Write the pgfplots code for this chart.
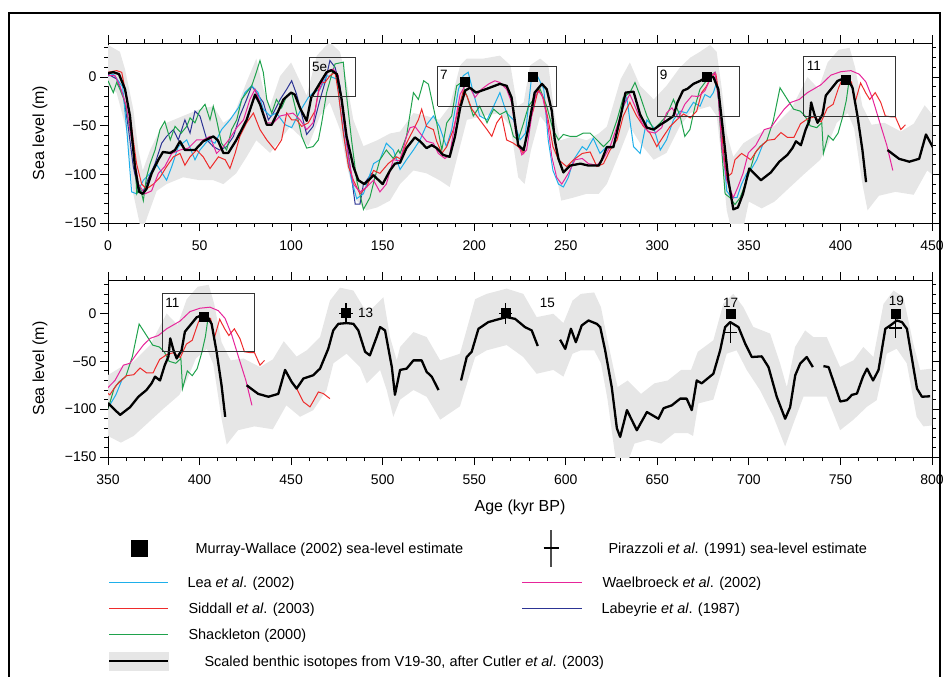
\documentclass[border=0pt]{standalone}
\usepackage{fontspec}
\setmainfont{Liberation Sans}
\usepackage{pgfplots}
\usepackage{pgfplotstable}
\pgfplotsset{compat=1.18}

\definecolor{cLea}{HTML}{1EAFEA}
\definecolor{cSid}{HTML}{EE2B2B}
\definecolor{cSha}{HTML}{1FA24C}
\definecolor{cWae}{HTML}{E6259A}
\definecolor{cLab}{HTML}{2C3494}
\definecolor{cBand}{HTML}{E6E6E6}

% scaled benthic isotopes (nan = gap)
\pgfplotstableread[row sep=\\]{x y\\
0 4\\ 3 5\\ 6 3\\ 9.3 -12.5\\ 12 -40\\ 14.7 -92\\ 17 -118\\ 19 -120\\ 21 -115\\ 23.8 -99\\ 27.5 -85\\ 30 -77\\ 34 -78\\ 36.6 -75\\ 39.3 -66\\ 42 -75\\ 47.5 -75\\ 52 -66\\ 57.5 -61\\ 60 -65\\ 63 -78\\ 65.7 -78\\ 70 -65\\ 75.7 -44\\ 80.3 -18\\ 83 -28\\ 86.7 -49\\ 89.4 -49\\ 93 -35\\ 95.8 -23\\ 100 -16\\ 102 -18\\ 104.9 -32\\ 108.5 -45\\ 111 -21\\ 115.8 -6\\ 119.4 5\\ 122 7\\ 125 3\\ 127.6 -23\\ 130.3 -61\\ 134 -92\\ 136.7 -106\\ 140 -110\\ 145 -101\\ 150 -110\\ 154 -96\\ 156.7 -89\\ 159.5 -88\\ 163 -73\\ 167.6 -62\\ 170.4 -66\\ 174 -73\\ 176.8 -70\\ 179.5 -73\\ 183 -80\\ 186.6 -82\\ 189.5 -61\\ 192.3 -32\\ 195 -14\\ 197.7 -11\\ 201 -16\\ 207 -12\\ 214 -7\\ 217.7 -9\\ 220.4 -21\\ 224 -70\\ 227 -75\\ 229.6 -52\\ 233 -16\\ 237 -7\\ 239.6 -12.5\\ 242.4 -35\\ 244 -65\\ 246 -84\\ 248.7 -98\\ 252.4 -91\\ 258 -89\\ 262.4 -91\\ 268 -91\\ 269.7 -85\\ 272.4 -72\\ 276 -72\\ 280 -40\\ 282.6 -16\\ 287 -15\\ 290.6 -38.5\\ 294.3 -52\\ 298 -54\\ 301.6 -49\\ 305 -45\\ 308.8 -40\\ 311 -26\\ 314 -14\\ 316.5 -12\\ 319.7 -7\\ 323.3 -4\\ 327 0\\ 330.6 0\\ 333.3 -12.5\\ 336 -57.6\\ 338.8 -106\\ 341.5 -136\\ 344 -134\\ 346.8 -120\\ 350.2 -94\\ 356.6 -106\\ 362 -98\\ 366.6 -87\\ 371 -80\\ 373.8 -73\\ 375.7 -66\\ 378.4 -70\\ 381 -54\\ 383 -45\\ 384 -26\\ 385.8 -38.5\\ 387.5 -47\\ 390.2 -38.5\\ 392 -19\\ 394.8 -12.5\\ 398.4 -4\\ 401 -2\\ 404 -2\\ 406.6 -11\\ 409.3 -40\\ 412 -75\\ 414 -108\\ 419 nan\\
425.7 -75\\ 432 -84\\ 437.6 -87\\ 443 -84\\ 446.7 -59\\ 450.3 -71.5\\ 453 -78.5\\ 456.7 -68\\ 462 -64.6\\ 465.8 -57.6\\ 470.3 -36.8\\ 473 -17.7\\ 475.8 -10.8\\ 480.3 -10\\ 484 -10.8\\ 486.7 -17.7\\ 490.4 -40\\ 493 -43.8\\ 496.7 -24.6\\ 498.6 -14.2\\ 501.3 -17.7\\ 505 -56\\ 506.7 -85\\ 509.5 -59\\ 513.1 -57.6\\ 516.8 -49\\ 521.3 -49\\ 524 -61\\ 526.8 -66\\ 530.5 -80\\ 536 nan\\
542.8 -70\\ 545.9 -45.5\\ 548.6 -40\\ 552.3 -16\\ 557.7 -9\\ 564 -5.6\\ 567.7 -3.8\\ 572.3 -5.6\\ 577.7 -14.2\\ 581.4 -17.7\\ 584.7 -34\\ 590 nan\\
596.9 -27.4\\ 599.7 -37\\ 602.8 -16\\ 605.5 -30\\ 608.7 -12.5\\ 612.4 -7.3\\ 616.9 -10.8\\ 618.8 -14.2\\ 621.5 -38.5\\ 625.1 -77\\ 627.9 -120\\ 629.7 -129\\ 633.4 -101\\ 638.8 -122\\ 644.3 -103\\ 650.6 -110\\ 653.4 -99\\ 657.9 -96\\ 662.5 -89\\ 666 -89\\ 668.8 -101\\ 671.5 -70\\ 674.2 -73\\ 680.6 -63\\ 684.3 -38.5\\ 687 -14.2\\ 689.8 -9\\ 694.3 -14.2\\ 698 -31.6\\ 701.6 -45.5\\ 707 -44.8\\ 710.7 -56\\ 715.2 -87\\ 719.8 -110\\ 722.5 -98\\ 725.3 -64.6\\ 728 -52.4\\ 731.6 -45.5\\ 734.9 -56\\ 737 nan\\
740.7 -55\\ 743.5 -56\\ 747.2 -76.7\\ 749.9 -92\\ 753.5 -90.6\\ 756.3 -85\\ 759 -83.7\\ 762.3 -66\\ 764.5 -57.6\\ 767.8 -70\\ 770.8 -59\\ 774.5 -16\\ 777.2 -12.5\\ 780.8 -7.3\\ 783.6 -9\\ 786.3 -16\\ 791.8 -78.5\\ 794.5 -87\\ 799 -86.5\\
}\tblack

% uncertainty band: upper edge left to right, then lower edge right to left
\pgfplotstableread[row sep=\\]{x y\\
0 33\\ 6.5 26\\ 9.3 8\\ 13.8 -33\\ 16.6 -75\\ 19 -96\\ 23 -75\\ 28.4 -54\\ 32 -47\\ 41 -40\\ 50 -33\\ 57.5 -30\\ 63 -47\\ 68.5 -40\\ 75.7 -5\\ 81 19\\ 84.8 -12\\ 88.5 -30\\ 94 1\\ 100 15\\ 105 -5\\ 108.5 -19\\ 114 22\\ 121 36\\ 126.7 26\\ 130.3 -5\\ 134 -44\\ 139.5 -71\\ 147 -65\\ 154 -58\\ 159.5 -56\\ 166.8 -37\\ 174 -40\\ 181 -44\\ 186.6 -30\\ 192.3 12\\ 196 19\\ 205 19\\ 214 22\\ 219.8 12\\ 223.5 -30\\ 227 -26\\ 230.5 12\\ 236 19\\ 240.5 12\\ 244 -40\\ 247 -65\\ 254 -61\\ 261.4 -65\\ 268 -58\\ 272.4 -51\\ 280 -2\\ 285 15\\ 290.6 -9\\ 298 -23\\ 305 -9\\ 312.4 10\\ 318 20\\ 323.3 26\\ 328.8 33\\ 332.4 26\\ 335.2 -12\\ 337.9 -58\\ 341.5 -82\\ 347 -68\\ 352 -62\\ 358 -55\\ 364 -50\\ 373 -33\\ 382 0\\ 388 -12\\ 393 15\\ 399 28\\ 405 30\\ 408 10\\ 412 -30\\ 417 -49\\ 424 -47\\ 433 -56\\ 440 -48\\ 446 -29\\ 453 -45\\ 458.5 -38.5\\ 465.8 -24.6\\ 471.2 13.5\\ 476.7 27\\ 484 24\\ 489.5 6.6\\ 493 3\\ 500.4 17\\ 504 -24.6\\ 507.7 -49\\ 509.5 -35\\ 516.8 -19.4\\ 524 -24.6\\ 531.4 -49\\ 542.2 -42\\ 550.5 15\\ 556.8 20.5\\ 567.7 26\\ 576.8 20.5\\ 584.1 -3.8\\ 593.2 -0.3\\ 598.7 -10\\ 603.7 13.5\\ 608.2 20.5\\ 615.5 22\\ 619.2 6.6\\ 622.8 -28\\ 628.3 -77\\ 633.8 -70\\ 641.1 -84\\ 648.4 -73\\ 655.7 -70\\ 663 -59\\ 668.4 -59\\ 672.1 -40\\ 680.6 -28\\ 686 10\\ 691.5 20.5\\ 697 6.6\\ 702.4 -14\\ 711.6 -21\\ 717 -52\\ 720.7 -77\\ 725.2 -35\\ 730.7 -17.7\\ 735.2 -24.6\\ 742.5 -24.6\\ 749.8 -56\\ 757.1 -49\\ 762.5 -35\\ 768 -45.5\\ 773.5 10\\ 779 24\\ 784.4 17\\ 789.8 -31.6\\ 793.5 -59\\ 800 -57.6\\
800 -117\\ 795.3 -118\\ 791.6 -108\\ 786.2 -52\\ 780.7 -36.8\\ 775.3 -42\\ 769.8 -90.6\\ 764.4 -97.6\\ 757.1 -111\\ 749.8 -122\\ 742.5 -87\\ 729.8 -87\\ 724.3 -115\\ 719.8 -139\\ 713.4 -108\\ 706 -80\\ 698.8 -59\\ 693.3 -38.5\\ 687.9 -42\\ 680.6 -90\\ 672.4 -94\\ 669.5 -128\\ 666.7 -125\\ 659.4 -125\\ 652.1 -136\\ 644.8 -132\\ 637.5 -136\\ 632 -165\\ 627.4 -155\\ 622.8 -90\\ 619.2 -52\\ 615.5 -38.5\\ 608.2 -38.5\\ 603.7 -42\\ 598.7 -66\\ 593.2 -59\\ 584.1 -63\\ 576.8 -45.5\\ 567.7 -33\\ 556.8 -38.5\\ 550.5 -45.5\\ 542.2 -97\\ 531.4 -111\\ 524 -87\\ 516.8 -80\\ 509.5 -90\\ 505.8 -108\\ 502.2 -80\\ 498.6 -59\\ 491.3 -73\\ 487.6 -56\\ 480.3 -42\\ 473.1 -52\\ 469.4 -80\\ 462.1 -101\\ 454.9 -108\\ 447.4 -96\\ 440 -121\\ 430 -118\\ 421 -122\\ 414.8 -137\\ 412 -110\\ 407.5 -53\\ 404 -37\\ 398 -47\\ 393 -70\\ 389 -85\\ 380 -100\\ 372 -114\\ 364 -128\\ 357 -135\\ 350 -128\\ 347 -155\\ 341.5 -165\\ 337.9 -137\\ 335.2 -85\\ 332.4 -40\\ 328.8 -30\\ 323.3 -33\\ 318 -37\\ 312.4 -50\\ 305 -78\\ 298 -85\\ 290.6 -68\\ 285 -51\\ 280 -75\\ 272.4 -110\\ 268 -120\\ 261.4 -120\\ 254 -124\\ 247.5 -127\\ 244 -92\\ 240.5 -51\\ 236 -40\\ 231 -75\\ 227.5 -110\\ 224 -103\\ 219.8 -51\\ 214 -37\\ 205 -40\\ 196 -44\\ 192.3 -71\\ 186.6 -113\\ 181 -106\\ 174 -99\\ 166.8 -96\\ 159.5 -110\\ 154 -127\\ 147 -134\\ 141 -137\\ 135.8 -127\\ 131 -96\\ 126.7 -54\\ 121 -26\\ 115.8 -40\\ 109.4 -71\\ 105 -61\\ 99.4 -51\\ 94 -65\\ 88.5 -78\\ 81 -65\\ 75.7 -82\\ 70 -99\\ 63 -110\\ 57.5 -106\\ 50 -106\\ 41 -103\\ 32 -110\\ 26.6 -117\\ 22 -141\\ 18.4 -160\\ 13.8 -120\\ 10 -54\\ 4.7 -16\\ 0 -9\\
}\tband

% Lea et al. (2002)
\pgfplotstableread[row sep=\\]{x y\\
0 1\\ 3 3\\ 8 -10\\ 10.5 -60\\ 12.9 -118\\ 15.6 -120\\ 19.3 -106\\ 23 -99\\ 26.6 -90\\ 32 -106\\ 34.8 -92\\ 38.4 -71.5\\ 43 -64.6\\ 47.5 -85\\ 50.2 -75\\ 54.8 -64.6\\ 58.4 -68\\ 62 -54\\ 66.6 -44\\ 71.2 -31.6\\ 74.8 -16\\ 78.5 -9\\ 82 -16\\ 84.8 -33\\ 88.5 -40\\ 92 -37\\ 96.7 -49\\ 100.3 -52\\ 104.9 -35\\ 109.4 -21\\ 112.1 -16\\ 115.8 -12.5\\ 119.4 1.4\\ 122 0\\ 125 -2\\ 126.7 -30\\ 130.3 -78.5\\ 133 -106\\ 135.8 -125\\ 139.5 -120\\ 142 -106\\ 145 -89\\ 148.5 -85\\ 152 -68\\ 155.8 -75\\ 159.5 -95\\ 163 -85\\ 166.8 -75\\ 170.4 -64.6\\ 174 -49\\ 177.7 -40\\ 181 -50.7\\ 184.8 -71.5\\ 187.7 -54\\ 191.4 -12.5\\ 194 1.4\\ 196.7 4.9\\ 199.5 -16\\ 203 -40\\ 207 -44\\ 210.6 -30\\ 214 -16\\ 217.7 -37\\ 221.4 -44\\ 225 -64.6\\ 228 -57.6\\ 231.4 1.4\\ 234 3\\ 238 -12.5\\ 240.4 -64.6\\ 243 -96\\ 246 -110\\ 248.7 -113\\ 251.4 -103\\ 254.3 -85\\ 259 -71.5\\ 261.4 -75\\ 265 -63\\ 268.7 -78.5\\ 272.4 -71.5\\ 276 -71.5\\ 280 -38.5\\ 283.3 -21\\ 287 -71.5\\ 290.6 -78.5\\ 294.3 -44\\ 298 -52\\ 301.6 -75\\ 305 -64.6\\ 308.8 -44\\ 312.4 -35\\ 316 -37\\ 319.7 -26\\ 323.3 -30\\ 326 -18\\ 328.8 -21\\ 330.6 -16\\ 332.4 -5.6\\ 334.2 -37\\ 336 -75\\ 337.9 -117\\ 340.6 -124\\ 343.5 -124\\ 346 -110\\ 348.8 -99\\ 351.5 -94\\ 354.3 -85\\ 357.9 -68\\
}\tlea

% Siddall et al. (2003)
\pgfplotstableread[row sep=\\]{x y\\
0 4.9\\ 4.7 6.6\\ 7.5 4.9\\ 9.3 -12.5\\ 12 -40\\ 15.6 -89\\ 18.4 -110\\ 21 -115\\ 24.8 -110\\ 28.4 -103\\ 32 -92\\ 35.7 -82\\ 39.3 -78.5\\ 42 -90.6\\ 44.8 -82\\ 48.4 -75\\ 52 -82\\ 55.7 -94\\ 60.3 -82\\ 64 -85\\ 66.6 -94\\ 69.4 -78.5\\ 72 -61\\ 75.7 -47\\ 79.4 -37\\ 83 -54\\ 86.7 -64.6\\ 91.2 -75\\ 94.8 -64.6\\ 97.6 -37\\ 100.3 -44\\ 103 -44\\ 105.8 -50.7\\ 109.4 -47\\ 113 -35\\ 115.8 -5.6\\ 118.5 -5.6\\ 121.2 1.4\\ 124 4.9\\ 125.8 -16\\ 128.5 -57.6\\ 131.3 -92\\ 134 -106\\ 137.6 -120\\ 141.3 -113\\ 145 -96\\ 148.5 -99\\ 153 -89\\ 157.6 -82\\ 159.5 -84\\ 163 -68\\ 166.8 -54\\ 169.5 -44\\ 171.3 -33\\ 174 -50.7\\ 177.7 -54\\ 179.5 -66\\ 182.3 -78.5\\ 185 -71.5\\ 188.6 -54\\ 191.4 -33\\ 194 -14.2\\ 196 -19.4\\ 198.7 -33\\ 203 -44\\ 207 -54\\ 209.6 -61\\ 212.3 -47\\ 215 -40\\ 217.7 -64.6\\ 221.4 -68\\ 224 -71.5\\ 227 -78.5\\ 229.6 -50.7\\ 232.4 -33\\ 235 -12.5\\ 238 -23\\ 240.4 -44\\ 243 -71.5\\ 246 -85\\ 250.5 -92\\ 254.3 -85\\ 259 -78.5\\ 263.3 -77\\ 267 -92\\ 270.6 -89\\ 274.2 -75\\ 278 -64.6\\ 281.4 -40\\ 285 -26\\ 288.7 -40\\ 292.4 -50.7\\ 296 -57.6\\ 299.7 -71.5\\ 303.3 -61\\ 307 -50.7\\ 310.6 -44\\ 314.3 -38\\ 318 -42\\ 321.5 -35\\ 324.2 -16\\ 327 -9\\ 329.7 1.4\\ 332 3\\ 333.8 -19.4\\ 336 -75\\ 337.9 -103\\ 340.6 -99\\ 342.4 -85\\ 346 -78.5\\ 348.8 -82\\ 351 -85\\ 354.5 -75\\ 360 -65\\ 364 -64\\ 367.5 -57\\ 371 -62\\ 374.6 -62\\ 378.2 -48\\ 382 -43\\ 385.6 -41\\ 389.5 -46\\ 392.8 -32\\ 396 -28\\ 399 -11\\ 401 -2\\ 404.2 -5\\ 406 -5\\ 408 -26\\ 411 -6\\ 413.7 -16\\ 416 -23\\ 419 -16\\ 422 -26\\ 424.5 -40\\ 428 -41\\ 430 -41\\ 433 -54\\ 435.5 -49\\ 444 nan\\ 453 -78.5\\ 456.7 -92.4\\ 460.3 -97.6\\ 462 -92\\ 464.9 -82\\ 467.6 -83.7\\ 471.2 -89\\
}\tsid

% Shackleton (2000)
\pgfplotstableread[row sep=\\]{x y\\
0 -3.8\\ 2.9 -16\\ 4.7 -5.6\\ 6.5 -12.5\\ 9.3 -26\\ 12 -54\\ 14.7 -82\\ 15.7 -120\\ 17.5 -113\\ 19.3 -127\\ 21 -103\\ 23 -89\\ 25.7 -75\\ 28.4 -54\\ 31 -45.5\\ 34 -64.6\\ 36.6 -50.7\\ 40 -57.6\\ 43 -50.7\\ 44.8 -42\\ 47.5 -47\\ 50 -35\\ 53 -28\\ 55.7 -44\\ 57.5 -30\\ 59.3 -44\\ 62 -68\\ 64.8 -75\\ 67.5 -54\\ 70.3 -44\\ 73 -23\\ 75.7 -16\\ 78.5 -9\\ 81 4.9\\ 83 17\\ 84.8 4.9\\ 86.7 -23\\ 89.4 -37\\ 92 -23\\ 94.8 -31.6\\ 97.6 -19.4\\ 100.3 -16\\ 103 -37\\ 105.8 -61\\ 108.5 -73\\ 112 -71.5\\ 114.9 -64.6\\ 116.7 -47\\ 119.4 -16\\ 122 1.4\\ 124 13.5\\ 128.5 15.3\\ 130.3 -19.4\\ 133 -64.6\\ 135.8 -106\\ 139.5 -136\\ 143 -124\\ 145.8 -103\\ 148.5 -85\\ 152 -75\\ 155.8 -83.7\\ 158.6 -75\\ 159.5 -78.5\\ 163 -61\\ 166.8 -16\\ 169.5 -23\\ 172.4 -3.8\\ 175 -7.3\\ 176.8 -23\\ 179.5 -47\\ 182.3 -75\\ 185 -47\\ 187.7 -40\\ 190.4 -9\\ 193 -5.6\\ 196 -19.4\\ 199.5 -40\\ 203 -30\\ 207 -47\\ 210.6 -33\\ 214 -38.5\\ 217.7 -35\\ 221.4 -61\\ 224 -64.6\\ 227 -47\\ 229.6 -30\\ 232.4 -23\\ 236 -12.5\\ 239.6 -30\\ 243 -54\\ 246 -64.6\\ 248.7 -59\\ 252.4 -61\\ 256 -61\\ 259.6 -57.6\\ 263.3 -57.6\\ 267 -64.6\\ 270.6 -71.5\\ 274.2 -64.6\\ 278 -44\\ 281.4 -21\\ 285 -16\\ 287.8 -5.6\\ 290.6 -19.4\\ 294.3 -40\\ 298 -54\\ 301.6 -47\\ 305 -40\\ 308.8 -23\\ 312.4 -40\\ 315 -61\\ 317.8 -54\\ 320.6 -30\\ 323.3 -12.5\\ 326 -5.6\\ 328.8 1.4\\ 331.5 4.9\\ 333.4 -23\\ 335.2 -75\\ 337 -120\\ 339.7 -124\\ 342.4 -131\\ 345.2 -124\\ 348 -110\\ 350.6 -96\\ 353.3 -78.5\\ 356 -71.5\\ 359.7 -66\\ 363.3 -45\\ 367 -11\\ 370.7 -22\\ 374.4 -33\\ 378 -35\\ 380.7 -40\\ 383.4 -50\\ 387 -52\\ 389.8 -47\\ 390.7 -78.5\\ 393.3 -60\\ 396 -65\\ 398.7 -57.6\\ 401.2 -41\\ 403.2 -24\\ 404.6 -5\\ 406.5 -9\\
}\tsha

% Waelbroeck et al. (2002)
\pgfplotstableread[row sep=\\]{x y\\
0 1.4\\ 3.8 1.4\\ 6.5 -9\\ 10 -30\\ 13.8 -75\\ 16.6 -110\\ 20.2 -120\\ 23.8 -117\\ 27.5 -99\\ 31 -92\\ 34.8 -78.5\\ 39.3 -75\\ 43.9 -73\\ 48.4 -64.6\\ 52 -64.6\\ 55.7 -61\\ 59.3 -78.5\\ 63 -71.5\\ 66.6 -63\\ 70.3 -52\\ 74 -44\\ 77.5 -23\\ 80.3 -12.5\\ 83 -26\\ 86.7 -47\\ 90.3 -47\\ 94 -40\\ 97.6 -38.5\\ 101 -37\\ 104.9 -44\\ 108.5 -54\\ 112 -47\\ 114.9 -16\\ 117.6 -2\\ 120.3 6.6\\ 123 8.3\\ 125.8 1.4\\ 128.5 -44\\ 131.3 -82\\ 134 -110\\ 137.6 -118\\ 141.3 -113\\ 145 -106\\ 148.5 -118\\ 152 -110\\ 155.8 -85\\ 159.5 -86\\ 163 -61\\ 165 -52\\ 167.6 -50.7\\ 170.4 -57.6\\ 174 -66\\ 177.7 -68\\ 180.4 -78.5\\ 184 -83.7\\ 186.6 -80\\ 189.5 -47\\ 192.3 -17.7\\ 195 -9\\ 197.7 -10.8\\ 200.4 -21\\ 204 -12.5\\ 207.7 -7.3\\ 211.3 -3.8\\ 214 -5.6\\ 217.7 -12.5\\ 220.4 -26\\ 223 -61\\ 226 -80\\ 228.6 -75\\ 231.4 -40\\ 234 -14.2\\ 237 -17.7\\ 239.6 -40\\ 242.4 -82\\ 245 -103\\ 247.8 -110\\ 251.4 -99\\ 255 -85\\ 259 -83.7\\ 262.4 -89\\ 267 -90.6\\ 270.6 -83.7\\ 274.2 -71.5\\ 278 -50.7\\ 281.4 -30\\ 285 -17.7\\ 287.8 -30\\ 291.5 -47\\ 295 -56\\ 298.8 -57.6\\ 302.4 -52\\ 305 -37\\ 308 -31.6\\ 311.5 -42\\ 315 -28\\ 318.8 -19.4\\ 322.4 -20\\ 326 -14\\ 329.7 1.4\\ 331.5 4.9\\ 333.4 -23\\ 335.2 -71.5\\ 337.9 -106\\ 341.5 -124\\ 344 -113\\ 346.8 -99\\ 349.7 -78\\ 353.8 -70\\ 358.4 -54\\ 362 -52\\ 365.7 -42\\ 369.3 -33\\ 373 -26\\ 377.5 -23\\ 382 -16\\ 389.3 -8\\ 394.8 2\\ 400.2 5.5\\ 405.7 6.6\\ 410.2 3\\ 413.9 -5\\ 417.5 -22\\ 421.2 -45\\ 425.3 -70\\ 428.6 -96\\
}\twae

% Labeyrie et al. (1987)
\pgfplotstableread[row sep=\\]{x y\\
0 3\\ 4.7 -2\\ 8.4 -19.4\\ 11 -50.7\\ 13.8 -92\\ 16.6 -117\\ 19.3 -117\\ 22 -104.5\\ 25.7 -89\\ 29.3 -68\\ 32 -61\\ 35.7 -54\\ 38.4 -64.6\\ 42 -44\\ 44.8 -57.6\\ 47.5 -35\\ 50.2 -40\\ 54 -64.6\\ 57.5 -71.5\\ 61 -75\\ 64.8 -71.5\\ 68.5 -61\\ 72 -40\\ 75.7 -23\\ 78.5 -9\\ 81 -16\\ 84.8 -26\\ 87.6 -44\\ 90.3 -37\\ 94 -23\\ 97.6 -12.5\\ 100.3 -3.8\\ 103 -17.7\\ 105.8 -38.5\\ 108.5 -59\\ 112 -50.7\\ 115.8 -23\\ 118.5 -5.6\\ 121.2 17\\ 124 10\\ 126.7 -9\\ 129.4 -50.7\\ 132.2 -92\\ 135 -130.6\\ 137.6 -130.6\\ 139.5 -110\\ 141.3 -106\\ 144 -99\\ 146.7 -103\\
}\tlab

\newcommand{\stfont}{\fontsize{13.5bp}{16bp}\selectfont}
\newcommand{\rowA}{\rule[-16bp]{0pt}{42bp}}
\newcommand{\rowB}{\rule[-8.15bp]{0pt}{26.3bp}}

\pgfplotsset{
  sealevel/.style={
    scale only axis, width=824bp,
    ymin=-150, ymax=35,
    axis line style={line width=0.9bp},
    tick style={line width=0.9bp, black},
    tick align=outside,
    major tick length=8bp, minor tick length=4bp,
    xtick pos=both, ytick pos=both,
    xticklabel pos=lower, yticklabel pos=left,
    ytick={-150,-100,-50,0},
    yticklabels={−150,−100,−50,0},
    minor ytick={-140,-130,-120,-110,-90,-80,-70,-60,-40,-30,-20,-10,10,20,30},
    /pgf/number format/assume math mode=true,
    ticklabel style={font=\fontsize{14bp}{16bp}\selectfont},
    xticklabel style={yshift=-6bp},
    label style={font=\fontsize{16bp}{19bp}\selectfont},
    ylabel={Sea level (m)},
    ylabel style={at={(axis description cs:-0.0825,0.5)}, anchor=center},
    unbounded coords=jump,
  },
  boxline/.style={black!80, line width=0.9bp, forget plot},
}

\newcommand{\allseries}{%
  \addplot[fill=cBand, draw=none, forget plot] table {\tband};
  \addplot[cLab, line width=1bp, forget plot] table {\tlab};
  \addplot[cLea, line width=1bp, forget plot] table {\tlea};
  \addplot[cSha, line width=1bp, forget plot] table {\tsha};
  \addplot[cSid, line width=1bp, forget plot] table {\tsid};
  \addplot[cWae, line width=1bp, forget plot] table {\twae};
  \addplot[black, line width=2.3bp, line join=round, forget plot] table {\tblack};
}

\begin{document}
\begin{tikzpicture}
\path[use as bounding box] (0bp,0bp) rectangle (944bp,-677bp);
\draw[line width=1.3bp] (9bp,-677bp) -- (9bp,-13bp) -- (940bp,-13bp) -- (940bp,-677bp);

% upper panel: 0-450 kyr
\begin{axis}[sealevel, at={(108bp,-223bp)}, anchor=south west, height=180bp,
  xmin=0, xmax=450, xtick={0,50,...,450}, minor xtick={0,10,...,450}]
  \allseries
  \addplot[boxline] coordinates {(110,-20) (135,-20) (135,20) (110,20) (110,-20)};
  \addplot[boxline] coordinates {(180,-30) (245,-30) (245,11) (180,11) (180,-30)};
  \addplot[boxline] coordinates {(300,-40) (345,-40) (345,11) (300,11) (300,-40)};
  \addplot[boxline] coordinates {(380,-40) (430,-40) (430,21) (380,21) (380,-40)};
  \addplot[only marks, mark=square*, mark size=4.5bp, black, forget plot]
    coordinates {(195,-5) (232,0) (327,0) (403,-2.5)};
  \node[anchor=north west, inner sep=0pt, font=\stfont] at (axis cs:111.3,15) {5e};
  \node[anchor=north west, inner sep=0pt, font=\stfont] at (axis cs:181.3,7) {7};
  \node[anchor=north west, inner sep=0pt, font=\stfont] at (axis cs:301.3,7) {9};
  \node[anchor=north west, inner sep=0pt, font=\stfont] at (axis cs:381.5,16) {11};
\end{axis}

% lower panel: 350-800 kyr
\begin{axis}[sealevel, at={(108bp,-457bp)}, anchor=south west, height=177bp,
  xmin=350, xmax=800, xtick={350,400,...,800}, minor xtick={350,360,...,800},
  xlabel={Age (kyr BP)},
  xlabel style={at={(axis description cs:0.5,-0.283)}, anchor=center},
  legend columns=2, legend cell align=left,
  legend style={at={(0,-0.3955)}, anchor=north west, draw=none, fill=none,
    inner xsep=0pt, inner ysep=0pt, column sep=0pt, row sep=0pt,
    nodes={inner sep=0pt, text depth={}, text height={}, font=\fontsize{14.5bp}{17bp}\selectfont}}]
  \allseries
  \addplot[boxline] coordinates {(380,-40) (430,-40) (430,21) (380,21) (380,-40)};
  \addplot[only marks, mark=square*, mark size=4.5bp, black, forget plot]
    coordinates {(402,-3.5) (480,0.5) (567,1) (690,-0.7) (780,0.2)};
  \addplot[black, draw=none, mark=none, forget plot,
    error bars/.cd, x dir=both, x explicit, y dir=both, y explicit,
    error mark=none, error bar style={line width=1.4bp, black, draw=black}]
    coordinates {(480,0) +- (3.7,10.5) (567,0) +- (3.7,10.5) (690,-20) +- (3.7,10.5) (780,-15) +- (3.7,11)};
  \node[anchor=north west, inner sep=0pt, font=\stfont] at (axis cs:381.2,16) {11};
  \node[anchor=west, inner sep=0pt, font=\stfont] at (axis cs:486.5,1) {13};
  \node[anchor=center, inner sep=0pt, font=\stfont] at (axis cs:590,11) {15};
  \node[anchor=center, inner sep=0pt, font=\stfont] at (axis cs:690,11) {17};
  \node[anchor=center, inner sep=0pt, font=\stfont] at (axis cs:780.5,13.5) {19};

  % legend
  \addlegendimage{legend image code/.code={\path[draw=none] (0bp,0bp) -- (59bp,0bp); \fill[black] (21.5bp,-8bp) rectangle (37.5bp,8bp);}}
  \addlegendentry{\makebox[352bp][l]{\hspace*{26bp}Murray-Wallace (2002) sea-level estimate\rowA}}
  \addlegendimage{legend image code/.code={\path[draw=none] (0bp,0bp) -- (60bp,0bp); \draw[line width=1.6bp, black!70] (29bp,-18.5bp) -- (29bp,18.5bp); \draw[line width=1.6bp, black] (21.5bp,0bp) -- (36.5bp,0bp);}}
  \addlegendentry{\hspace*{26bp}Pirazzoli \textit{et al}. (1991) sea-level estimate\rowA}
  \addlegendimage{legend image code/.code={\draw[cLea, line width=1bp] (0bp,0bp) -- (59bp,0bp);}}
  \addlegendentry{\makebox[352bp][l]{\hspace*{18bp}Lea \textit{et al}. (2002)\rowB}}
  \addlegendimage{legend image code/.code={\draw[cWae, line width=1bp] (0bp,0bp) -- (60bp,0bp);}}
  \addlegendentry{\hspace*{20bp}Waelbroeck \textit{et al}. (2002)\rowB}
  \addlegendimage{legend image code/.code={\draw[cSid, line width=1bp] (0bp,0bp) -- (59bp,0bp);}}
  \addlegendentry{\makebox[352bp][l]{\hspace*{19bp}Siddall \textit{et al}. (2003)\rowB}}
  \addlegendimage{legend image code/.code={\draw[cLab, line width=1bp] (0bp,0bp) -- (60bp,0bp);}}
  \addlegendentry{\hspace*{19bp}Labeyrie \textit{et al}. (1987)\rowB}
  \addlegendimage{legend image code/.code={\draw[cSha, line width=1bp] (0bp,0bp) -- (59bp,0bp);}}
  \addlegendentry{\makebox[352bp][l]{\hspace*{19bp}Shackleton (2000)\rowB}}
  \addlegendimage{empty legend}
  \addlegendentry{\rowB}
  \addlegendimage{legend image code/.code={\fill[cBand] (0bp,-9bp) rectangle (59bp,9bp); \draw[black, line width=2.3bp] (0bp,0bp) -- (59bp,0bp);}}
  \addlegendentry{\makebox[352bp][l]{\hspace*{35bp}Scaled benthic isotopes from V19-30, after Cutler \textit{et al}. (2003)\rowB}}
\end{axis}
\end{tikzpicture}
\end{document}
